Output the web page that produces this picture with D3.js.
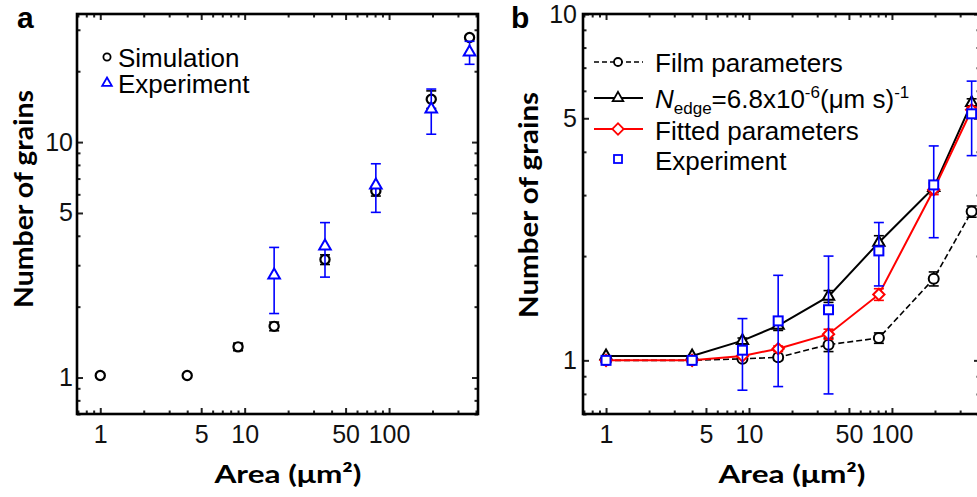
<!DOCTYPE html>
<html>
<head>
<meta charset="utf-8">
<script src="https://cdn.jsdelivr.net/npm/d3@7"></script>
<style>
  html, body { margin: 0; padding: 0; background: #fff; }
  svg { display: block; }
</style>
</head>
<body>
<svg id="fig" width="977" height="497"></svg>
<script>
// Island areas (µm²) shared by both panels
const areas = [1, 4, 9, 16, 36, 81, 196, 361];

// Panel a: simulation vs. experiment
const simGrains = [1.02, 1.02, 1.35, 1.65, 3.17, 6.2, 15.2, 27.8];
const simErr    = [0, 0, 0.05, 0.07, 0.15, 0.3, 1.3, 0];
const expAreasA  = [16, 36, 81, 196, 361];
const expGrainsA = [2.72, 3.61, 6.56, 13.8, 24.1];
const expErrA    = [0.85, 0.94, 1.53, 3.0, 2.7];

// Panel b: model variants vs. experiment
const filmGrains = [1.0, 1.0, 1.01, 1.02, 1.11, 1.16, 1.72, 2.69];
const filmErr    = [0, 0, 0.01, 0.02, 0.05, 0.04, 0.08, 0.1];
const edgeGrains = [1.03, 1.03, 1.14, 1.26, 1.53, 2.19, 3.15, 5.54];
const edgeErr    = [0, 0, 0.02, 0.04, 0.06, 0.1, 0.1, 0.15];
const fitGrains  = [1.0, 1.0, 1.03, 1.08, 1.19, 1.55, 3.11, 5.29];
const fitErr     = [0, 0, 0.01, 0.02, 0.04, 0.06, 0.1, 0.1];
const expGrainsB = [1.0, 1.0, 1.07, 1.30, 1.40, 2.07, 3.21, 5.15];
const expErrB    = [0, 0, 0.25, 0.46, 0.6, 0.43, 0.95, 1.25];

// Tick labels
const xTickLabels = [1, 5, 10, 50, 100];
const yTickLabels = [1, 5, 10];

const svg = d3.select("#fig");
const SANS = "'Liberation Sans', Arial, sans-serif";
const BOLD = "Lato, 'Open Sans', sans-serif";
const BLUE = "#0000ff", RED = "#ff0000", BLACK = "#000";

function zip(xs, ys, es) { return xs.map((v, i) => ({ x: v, y: ys[i], e: es ? es[i] : 0 })); }

function buildPanel(cfg) {
  const x = d3.scaleLog().domain([0.69, 413]).range([cfg.left, cfg.right]);
  const y = d3.scaleLog().domain(cfg.ydom).range([cfg.bottom, cfg.top]);
  const g = svg.append("g");

  const xMinor = x.ticks().filter(t => !xTickLabels.includes(t));
  const yMinor = y.ticks().filter(t => !yTickLabels.includes(t));
  const yMajor = yTickLabels.filter(t => t >= cfg.ydom[0] && t <= cfg.ydom[1]);

  const styleAxis = sel => {
    sel.select(".domain").remove();
    sel.selectAll("line").attr("stroke", "#222").attr("stroke-width", 2);
    sel.selectAll("text").attr("font-family", SANS).attr("font-size", 25).attr("fill", "#111");
  };

  // labelled major ticks
  g.append("g").attr("transform", `translate(0,${cfg.bottom})`)
    .call(d3.axisBottom(x).tickValues(xTickLabels).tickFormat(d3.format("d"))
      .tickSizeInner(-6).tickSizeOuter(0).tickPadding(11)).call(styleAxis);
  g.append("g").attr("transform", `translate(${cfg.left},0)`)
    .call(d3.axisLeft(y).tickValues(yMajor).tickFormat(d3.format("d"))
      .tickSizeInner(-6).tickSizeOuter(0).tickPadding(cfg.ypad)).call(styleAxis);
  // mirrored major ticks
  g.append("g").attr("transform", `translate(0,${cfg.top})`)
    .call(d3.axisTop(x).tickValues(xTickLabels).tickFormat("").tickSizeInner(-6).tickSizeOuter(0)).call(styleAxis);
  g.append("g").attr("transform", `translate(${cfg.right},0)`)
    .call(d3.axisRight(y).tickValues(yMajor).tickFormat("").tickSizeInner(-6).tickSizeOuter(0)).call(styleAxis);
  // minor ticks on all four sides
  g.append("g").attr("transform", `translate(0,${cfg.bottom})`)
    .call(d3.axisBottom(x).tickValues(xMinor).tickFormat("").tickSizeInner(-3.5).tickSizeOuter(0)).call(styleAxis);
  g.append("g").attr("transform", `translate(0,${cfg.top})`)
    .call(d3.axisTop(x).tickValues(xMinor).tickFormat("").tickSizeInner(-3.5).tickSizeOuter(0)).call(styleAxis);
  g.append("g").attr("transform", `translate(${cfg.left},0)`)
    .call(d3.axisLeft(y).tickValues(yMinor).tickFormat("").tickSizeInner(-3.5).tickSizeOuter(0)).call(styleAxis);
  g.append("g").attr("transform", `translate(${cfg.right},0)`)
    .call(d3.axisRight(y).tickValues(yMinor).tickFormat("").tickSizeInner(-3.5).tickSizeOuter(0)).call(styleAxis);

  // frame
  g.append("rect")
    .attr("x", cfg.left).attr("y", cfg.top)
    .attr("width", cfg.right - cfg.left).attr("height", cfg.bottom - cfg.top)
    .attr("fill", "none").attr("stroke", BLACK).attr("stroke-width", 2.6);

  // axis titles
  g.append("text")
    .attr("x", cfg.xtitleX).attr("y", 483)
    .attr("text-anchor", "middle").attr("font-family", BOLD).attr("font-weight", 700)
    .attr("font-size", 25).attr("fill", BLACK)
    .attr("textLength", 147).attr("lengthAdjust", "spacingAndGlyphs")
    .text("Area (μm²)");
  g.append("text")
    .attr("transform", `translate(${cfg.ytitleX},${cfg.ytitleY}) rotate(-90)`)
    .attr("text-anchor", "middle").attr("font-family", BOLD).attr("font-weight", 700)
    .attr("font-size", 26).attr("fill", BLACK)
    .attr("textLength", cfg.ytitleLen).attr("lengthAdjust", "spacingAndGlyphs")
    .text("Number of grains");

  // panel letter
  g.append("text")
    .attr("x", cfg.letterX).attr("y", 28)
    .attr("font-family", SANS).attr("font-weight", 700)
    .attr("font-size", 30).attr("fill", BLACK)
    .text(cfg.letter);

  return { g, x, y };
}

const markers = {
  circle: (sel, r) => sel.append("circle").attr("r", r),
  triangle: (sel, s) => sel.append("path").attr("d", d3.symbol(d3.symbolTriangle, s)()),
  square: (sel, s) => sel.append("rect").attr("x", -s / 2).attr("y", -s / 2).attr("width", s).attr("height", s),
  diamond: (sel, s) => sel.append("rect").attr("x", -s / 2).attr("y", -s / 2).attr("width", s).attr("height", s)
    .attr("transform", "rotate(45)")
};

function drawSeries(p, pts, opt) {
  const { g, x, y } = p;
  if (opt.line) {
    g.append("path").datum(pts)
      .attr("d", d3.line().x(d => x(d.x)).y(d => y(d.y)))
      .attr("fill", "none").attr("stroke", opt.color).attr("stroke-width", opt.lineWidth || 2)
      .attr("stroke-dasharray", opt.dash || null);
  }
  const eb = g.append("g").attr("stroke", opt.color).attr("stroke-width", 1.6);
  pts.filter(d => d.e > 0).forEach(d => {
    const px = x(d.x), y0 = y(d.y - d.e), y1 = y(d.y + d.e), cw = 5;
    eb.append("line").attr("x1", px).attr("x2", px).attr("y1", y0).attr("y2", y1);
    eb.append("line").attr("x1", px - cw).attr("x2", px + cw).attr("y1", y0).attr("y2", y0);
    eb.append("line").attr("x1", px - cw).attr("x2", px + cw).attr("y1", y1).attr("y2", y1);
  });
  const mk = g.append("g");
  pts.forEach(d => {
    const m = mk.append("g").attr("transform", `translate(${x(d.x)},${y(d.y)})`);
    markers[opt.shape](m, opt.size)
      .attr("fill", "#fff").attr("stroke", opt.color).attr("stroke-width", opt.strokeWidth || 2);
  });
}

// ---------- Panel a ----------
const pa = buildPanel({
  left: 77, right: 478, top: 14, bottom: 414, ydom: [0.7, 35], ypad: 4,
  xtitleX: 288, ytitleX: 33, ytitleY: 199, ytitleLen: 218, letter: "a", letterX: 17
});
drawSeries(pa, zip(areas, simGrains, simErr), { color: BLACK, shape: "circle", size: 4.6, strokeWidth: 2.2 });
drawSeries(pa, zip(expAreasA, expGrainsA, expErrA), { color: BLUE, shape: "triangle", size: 58 });

// legend a
const legA = pa.g.append("g").attr("font-family", SANS).attr("font-size", 26).attr("fill", BLACK);
[
  { label: "Simulation", color: BLACK, shape: "circle", size: 3.6, cy: 57 },
  { label: "Experiment", color: BLUE, shape: "triangle", size: 40, cy: 83 }
].forEach(item => {
  const m = legA.append("g").attr("transform", `translate(107,${item.cy})`);
  markers[item.shape](m, item.size).attr("fill", "#fff").attr("stroke", item.color).attr("stroke-width", 1.8);
  legA.append("text").attr("x", 118).attr("y", item.cy + 10).text(item.label);
});

// ---------- Panel b ----------
const pb = buildPanel({
  left: 583, right: 980, top: 14, bottom: 414, ydom: [0.7, 10], ypad: 6,
  xtitleX: 792, ytitleX: 538, ytitleY: 205, ytitleLen: 226, letter: "b", letterX: 511
});
drawSeries(pb, zip(areas, filmGrains, filmErr), { color: BLACK, shape: "circle", size: 5, line: true, dash: "6,3", lineWidth: 1.6 });
drawSeries(pb, zip(areas, edgeGrains, edgeErr), { color: BLACK, shape: "triangle", size: 55, line: true, lineWidth: 2 });
drawSeries(pb, zip(areas, fitGrains, fitErr), { color: RED, shape: "diamond", size: 8, line: true, lineWidth: 2 });
drawSeries(pb, zip(areas, expGrainsB, expErrB), { color: BLUE, shape: "square", size: 9 });

// legend b
const legB = pb.g.append("g").attr("font-family", SANS).attr("font-size", 26).attr("fill", BLACK);
const legRows = [
  { color: BLACK, shape: "circle", size: 4, cy: 62, line: true, dash: "5,3" },
  { color: BLACK, shape: "triangle", size: 48, cy: 98, line: true },
  { color: RED, shape: "diamond", size: 8, cy: 129, line: true },
  { color: BLUE, shape: "square", size: 8, cy: 159, line: false }
];
legRows.forEach(r => {
  if (r.line) {
    legB.append("line").attr("x1", 594).attr("x2", 643).attr("y1", r.cy).attr("y2", r.cy)
      .attr("stroke", r.color).attr("stroke-width", r.dash ? 1.5 : 2).attr("stroke-dasharray", r.dash || null);
  }
  const m = legB.append("g").attr("transform", `translate(618,${r.cy})`);
  markers[r.shape](m, r.size).attr("fill", "#fff").attr("stroke", r.color).attr("stroke-width", 1.8);
});
legB.append("text").attr("x", 655).attr("y", 72).text("Film parameters");
const t2 = legB.append("text").attr("x", 655).attr("y", 108);
t2.append("tspan").attr("font-style", "italic").text("N");
t2.append("tspan").attr("font-size", 17).attr("dy", 6).text("edge");
t2.append("tspan").attr("dy", -6).text("=6.8x10");
t2.append("tspan").attr("font-size", 17).attr("dy", -10).text("-6");
t2.append("tspan").attr("dy", 10).text("(μm s)");
t2.append("tspan").attr("font-size", 17).attr("dy", -10).text("-1");
legB.append("text").attr("x", 655).attr("y", 140).text("Fitted parameters");
legB.append("text").attr("x", 655).attr("y", 170).text("Experiment");
</script>
</body>
</html>
